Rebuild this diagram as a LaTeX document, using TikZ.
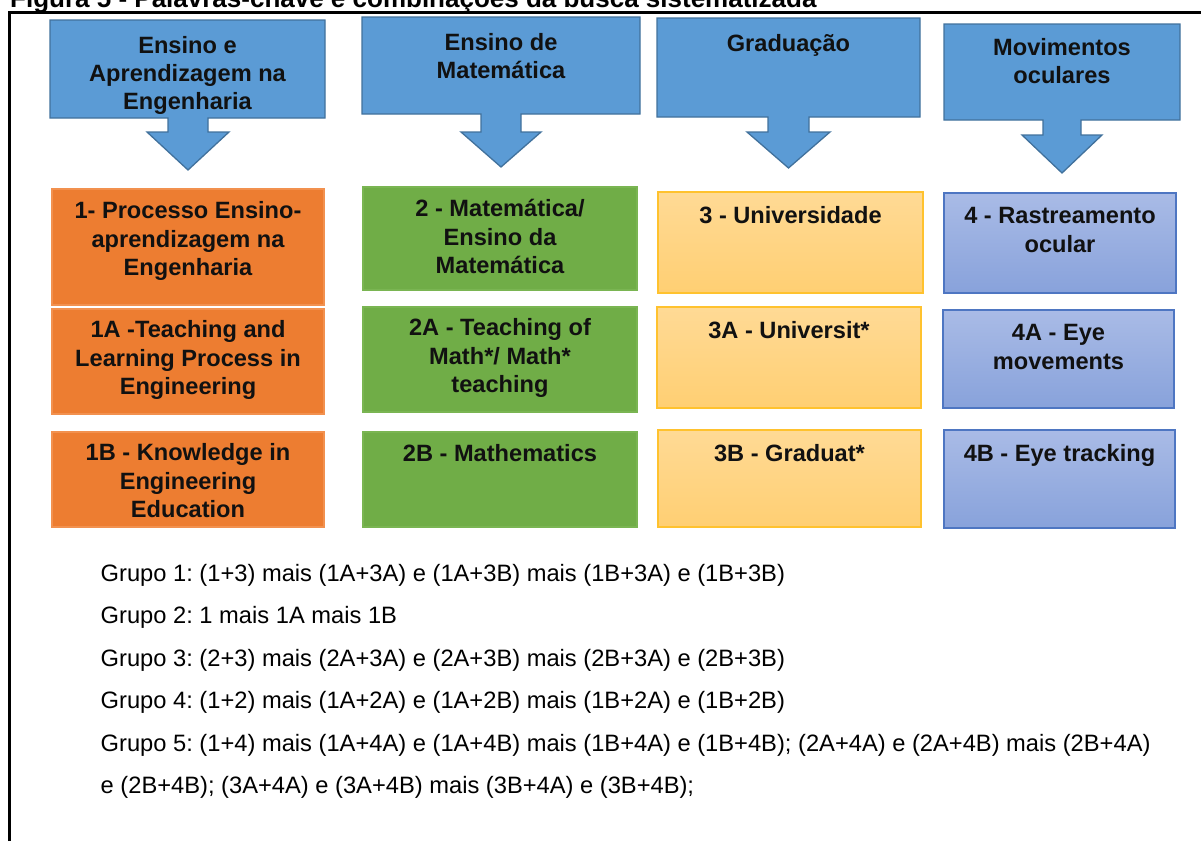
\documentclass[tikz,border=0pt]{standalone}
\usepackage{fontspec}
\setmainfont{Liberation Sans}
\frenchspacing
\definecolor{cblue}{HTML}{5B9BD5}
\definecolor{cblueD}{HTML}{41719C}
\definecolor{corange}{HTML}{ED7D31}
\definecolor{corangeD}{HTML}{F2914F}
\definecolor{cgreen}{HTML}{70AD47}
\definecolor{cgreenD}{HTML}{7AB552}
\definecolor{cyelT}{HTML}{FFDA95}
\definecolor{cyelB}{HTML}{FFCF73}
\definecolor{cyelD}{HTML}{FFC22E}
\definecolor{cperT}{HTML}{A9BBE6}
\definecolor{cperB}{HTML}{88A2DB}
\definecolor{cperD}{HTML}{4E76C2}
\definecolor{txtdark}{HTML}{111111}
\newcommand\kwbox[8]{%
  \node[#2, minimum width={#5-#3}, minimum height={#6-#4}] (#1) at ({(#3+#5)/2},{(#4+#6)/2}) {};
  \node[boxtxt] (#1t) at ({(#3+#5)/2},{#7-11.55}) {\rule{0pt}{20pt}#8};
}
\begin{document}
\begin{tikzpicture}[x=1pt,y=-1pt,
  callout/.style={fill=cblue, draw=cblueD, line width=1.3pt, line join=miter},
  hdr/.style={anchor=north, inner sep=0pt, align=center, font=\bfseries\fontsize{23.6}{28}\selectfont, text=txtdark},
  boxtxt/.style={anchor=north, inner sep=0pt, align=center, font=\bfseries\fontsize{23.6}{28.5}\selectfont, text=txtdark},
  obox/.style={draw=corangeD, fill=corange, line width=1.2pt, inner sep=0pt, outer sep=0pt},
  gbox/.style={draw=cgreenD, fill=cgreen, line width=1.2pt, inner sep=0pt, outer sep=0pt},
  ybox/.style={draw=cyelD, top color=cyelT, bottom color=cyelB, line width=1.6pt, inner sep=0pt, outer sep=0pt},
  pbox/.style={draw=cperD, top color=cperT, bottom color=cperB, line width=1.2pt, inner sep=0pt, outer sep=0pt},
  grp/.style={anchor=base west, inner sep=0pt, font=\fontsize{23.7}{28}\selectfont, text=black},
  frameline/.style={line width=2.6pt, black}
]
\useasboundingbox (0,0) rectangle (1201,841);

% title (partly cut off at the top, as in the reference)
\node[anchor=base west, inner sep=0pt, font=\bfseries\fontsize{26}{30}\selectfont] (title) at (10,7.5)
  {Figura 5 - Palavras-chave e combinações da busca sistematizada};

% frame
\coordinate (fbl) at (9.7,841);
\coordinate (ftl) at (9.7,12.7);
\coordinate (ftr) at (1201,12.7);
\draw[frameline] (fbl) -- (ftl) -- (ftr);

% header callouts
\path[callout] (50,20) -- (325,20) -- (325,118) -- (208,118) -- (208,132) -- (229,132)
  -- (188,170) -- (147,132) -- (168,132) -- (168,118) -- (50,118) -- cycle;
\node[hdr] (h1) at (187.5,33.5) {\rule{0pt}{20pt}Ensino e\\Aprendizagem na\\Engenharia};

\path[callout] (362,17) -- (640,17) -- (640,114) -- (521,114) -- (521,132) -- (541,132)
  -- (501,167) -- (461,132) -- (481,132) -- (481,114) -- (362,114) -- cycle;
\node[hdr] (h2) at (501,30.5) {\rule{0pt}{20pt}Ensino de\\Matemática};

\path[callout] (657,18) -- (920,18) -- (920,117) -- (809,117) -- (809,132) -- (830,132)
  -- (788.5,168) -- (747,132) -- (768,132) -- (768,117) -- (657,117) -- cycle;
\node[hdr] (h3) at (788.5,31.5) {\rule{0pt}{20pt}Graduação};

\path[callout] (944,24) -- (1180,24) -- (1180,120) -- (1081,120) -- (1081,135) -- (1102,135)
  -- (1062,173) -- (1022,135) -- (1043,135) -- (1043,120) -- (944,120) -- cycle;
\node[hdr] (h4) at (1062,35.5) {\rule{0pt}{20pt}Movimentos\\oculares};

% keyword boxes
\kwbox{b1}{obox}{52}{189}{324}{305}{210}{1- Processo Ensino-\\aprendizagem na\\Engenharia}
\kwbox{b1A}{obox}{52}{309}{324}{414}{329}{1A -Teaching and\\Learning Process in\\Engineering}
\kwbox{b1B}{obox}{52}{432}{324}{527}{452}{1B - Knowledge in\\Engineering\\Education}

\kwbox{b2}{gbox}{363}{187}{637}{290}{208}{2 - Matemática/\\Ensino da\\Matemática}
\kwbox{b2A}{gbox}{363}{307}{637}{412}{327}{2A - Teaching of\\Math*/ Math*\\teaching}
\kwbox{b2B}{gbox}{363}{432}{637}{527}{453}{2B - Mathematics}

\kwbox{b3}{ybox}{658}{192}{923}{293}{215}{3 - Universidade}
\kwbox{b3A}{ybox}{657}{307}{921}{408}{330}{3A - Universit*}
\kwbox{b3B}{ybox}{658}{430}{921}{527}{453}{3B - Graduat*}

\kwbox{b4}{pbox}{944}{193}{1176}{293}{215}{4 - Rastreamento\\ocular}
\kwbox{b4A}{pbox}{943}{310}{1174}{408}{332}{4A - Eye\\movements}
\kwbox{b4B}{pbox}{944}{430}{1175}{528}{453}{4B - Eye tracking}

% combination groups
\node[grp] (g1) at (100.5,581) {Grupo 1: (1+3) mais (1A+3A) e (1A+3B) mais (1B+3A) e (1B+3B)};
\node[grp] (g2) at (100.5,623.5) {Grupo 2: 1 mais 1A mais 1B};
\node[grp] (g3) at (100.5,666) {Grupo 3: (2+3) mais (2A+3A) e (2A+3B) mais (2B+3A) e (2B+3B)};
\node[grp] (g4) at (100.5,708.5) {Grupo 4: (1+2) mais (1A+2A) e (1A+2B) mais (1B+2A) e (1B+2B)};
\node[grp] (g5) at (100.5,751) {Grupo 5: (1+4) mais (1A+4A) e (1A+4B) mais (1B+4A) e (1B+4B); (2A+4A) e (2A+4B) mais (2B+4A)};
\node[grp] (g6) at (100.5,793.5) {e (2B+4B); (3A+4A) e (3A+4B) mais (3B+4A) e (3B+4B);};
\end{tikzpicture}
\end{document}
